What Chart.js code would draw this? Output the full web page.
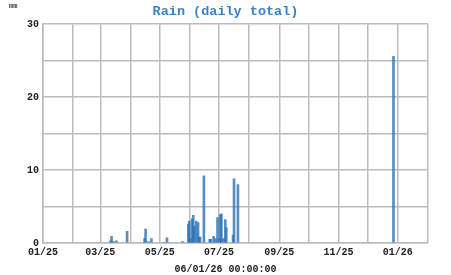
<!DOCTYPE html>
<html><head><meta charset="utf-8">
<script src="https://cdn.jsdelivr.net/npm/chart.js@4/dist/chart.umd.min.js"></script>
<style>html,body{margin:0;padding:0;background:#fff}#c{display:block}</style>
</head><body>
<canvas id="c" width="451" height="275"></canvas>
<script>
const titleText = "Rain (daily total)";
const bottomText = "06/01/26 00:00:00";
const unitText = "mm";
const rainDates = ["2025-03-11","2025-03-12","2025-03-14","2025-03-17","2025-03-28",
  "2025-04-15","2025-04-16","2025-04-19","2025-04-22","2025-05-05","2025-05-08","2025-05-24",
  "2025-05-30","2025-05-31","2025-06-01","2025-06-03","2025-06-04","2025-06-05","2025-06-07",
  "2025-06-09","2025-06-10","2025-06-11","2025-06-15","2025-06-21","2025-06-22","2025-06-25",
  "2025-06-27","2025-06-29","2025-07-01","2025-07-02","2025-07-03","2025-07-05","2025-07-07",
  "2025-07-08","2025-07-15","2025-07-16","2025-07-20","2025-12-27"];
const rainValues = [0.3,0.9,0.2,0.3,1.6,
  0.6,1.9,0.2,0.6,0.1,0.7,0.2,
  2.6,3.0,0.6,3.3,3.8,2.3,3.0,
  2.8,0.8,0.8,9.2,0.5,0.5,0.9,
  0.6,3.5,0.6,3.9,4.0,0.6,3.2,
  2.1,1.1,8.8,8.0,25.6];
const monthStarts = ["2025-01-01","2025-02-01","2025-03-01","2025-04-01","2025-05-01","2025-06-01",
  "2025-07-01","2025-08-01","2025-09-01","2025-10-01","2025-11-01","2025-12-01","2026-01-01","2026-02-01"];
const monthLabels = ["01/25","","03/25","","05/25","","07/25","","09/25","","11/25","","01/26",""];
const yTickLabels = {0:"0",10:"10",20:"20",30:"30"};

const origin = Date.UTC(2025,0,1);
function dayIdx(s){const p=s.split("-").map(Number);return (Date.UTC(p[0],p[1]-1,p[2])-origin)/86400000;}
const monthDays = monthStarts.map(dayIdx);
const points = rainDates.map((d,i)=>({x:dayIdx(d)+0.5,y:rainValues[i]}));

const mono = "'Liberation Mono','DejaVu Sans Mono',monospace";
const gridCol = "#bcbcbc";

const unitPlugin = {id:'unit',afterDraw(chart){const c=chart.ctx;c.save();c.font="bold 7px "+mono;c.fillStyle="#333";c.textBaseline="top";c.fillText(unitText,9,3);c.restore();}};

new Chart(document.getElementById('c'),{
  type:'bar',
  data:{datasets:[{data:points,backgroundColor:'rgba(45,115,180,0.8)',barThickness:2,borderWidth:0}]},
  options:{
    responsive:false,animation:false,
    layout:{padding:{left:23,right:23,top:0,bottom:0}},
    plugins:{
      legend:{display:false},tooltip:{enabled:false},
      title:{display:true,text:titleText,color:'#3a82c4',font:{family:mono,size:13.5,weight:'bold'},padding:{top:3,bottom:5}},
      subtitle:{display:true,position:'bottom',text:bottomText,color:'#222',font:{family:mono,size:10,weight:'bold'},padding:{top:2,bottom:0}}
    },
    scales:{
      x:{type:'linear',min:0,max:396,offset:false,
        afterBuildTicks(s){s.ticks=monthDays.map(v=>({value:v}));},
        ticks:{autoSkip:false,maxRotation:0,padding:3,color:'#222',font:{family:mono,size:10,weight:'bold'},
          callback(v,i){return monthLabels[i];}},
        grid:{color:gridCol,lineWidth:1.5,drawTicks:false,offset:false},
        border:{color:gridCol,width:1.5}},
      y:{min:0,max:30,
        afterBuildTicks(s){const t=[];for(let v=0;v<=30;v+=5)t.push({value:v});s.ticks=t;},
        afterFit(s){s.width=20;},
        ticks:{padding:4,color:'#222',font:{family:mono,size:10,weight:'bold'},
          callback(v){return yTickLabels[v]!==undefined?yTickLabels[v]:"";}},
        grid:{color:gridCol,lineWidth:1.5,drawTicks:false},
        border:{color:gridCol,width:1.5}}
    }
  },
  plugins:[unitPlugin]
});
</script>
</body></html>
